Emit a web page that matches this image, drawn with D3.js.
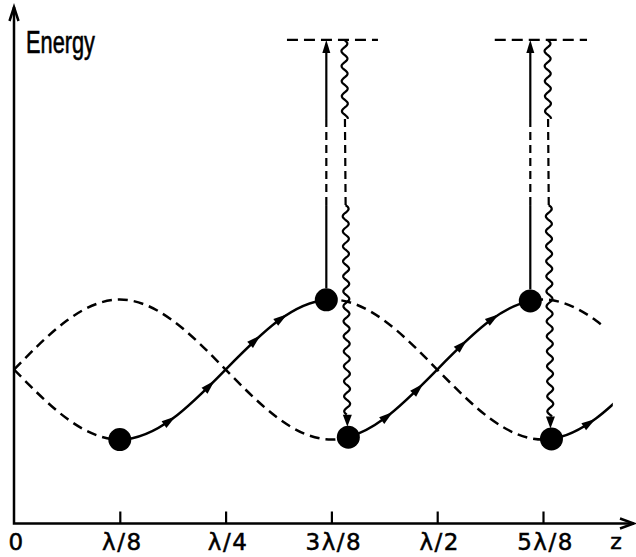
<!DOCTYPE html>
<html>
<head>
<meta charset="utf-8">
<script src="https://cdn.jsdelivr.net/npm/d3@7"></script>
<style>
  body { margin: 0; background: #fff; }
  svg { display: block; }
  .tick text { font-family: "DejaVu Sans", sans-serif; font-size: 23px; letter-spacing: 1.5px; fill: #000; stroke: #000; stroke-width: 0.5px; }
</style>
</head>
<body>
<svg id="chart" width="636" height="557"></svg>
<script>
// positions along z, in units of the wavelength
const zTicks = [0, 1 / 8, 1 / 4, 3 / 8, 1 / 2, 5 / 8];
const zTickLabels = ['0', 'λ/8', 'λ/4', '3λ/8', 'λ/2', '5λ/8'];

// the two light-shift potentials, read every λ/16
const sampleZ = [0, 0.0625, 0.125, 0.1875, 0.25, 0.3125, 0.375, 0.4375, 0.5, 0.5625, 0.625, 0.6875, 0.75];
const potentialA = [0, 0.7, 1, 0.7, 0, -0.7, -1, -0.7, 0, 0.7, 1, 0.7, 0];
const potentialB = [0, -0.7, -1, -0.7, 0, 0.7, 1, 0.7, 0, -0.7, -1, -0.7, 0];

// atom positions
const startDotZ = 0.125;
const upperDotZ = [0.369, 0.610];
const lowerDotZ = [0.395, 0.635];
const dashedEndZ = 0.696;
const solidEndZ = 0.7075;

// little arrowheads along the solid path
const arrowZ = [0.184, 0.231, 0.285, 0.316, 0.441, 0.4775, 0.529, 0.566, 0.68];

// excited level
const excitedEnergy = 4.71;
const levelSpans = [[0.3225, 0.43], [0.568, 0.677]];
const breakEnergy = [2.35, 3.58]; // vertical lines are dashed between these

const svg = d3.select('#chart');
const x = d3.scaleLinear().domain([0, 0.75]).range([14, 648.8]);
const y = d3.scaleLinear().domain([-2.2, 5.18]).range([523.5, 7]);

const line = d3.line()
  .x(d => x(d[0]))
  .y(d => y(d[1]))
  .curve(d3.curveNatural);

const dataA = sampleZ.map((z, i) => [z, potentialA[i]]);
const dataB = sampleZ.map((z, i) => [z, potentialB[i]]);

const defs = svg.append('defs');
let clipId = 0;

// draw part of a potential between z0 and z1
const drawCurve = (data, z0, z1, dashed) => {
  const id = `clip${clipId++}`;
  defs.append('clipPath').attr('id', id)
    .append('rect')
    .attr('x', x(z0)).attr('y', 0)
    .attr('width', x(z1) - x(z0)).attr('height', 557);
  svg.append('path')
    .attr('d', line(data))
    .attr('clip-path', `url(#${id})`)
    .attr('fill', 'none')
    .attr('stroke', '#000')
    .attr('stroke-width', 2.5)
    .attr('stroke-dasharray', dashed ? '10,6' : null);
};

// hidden copies used to find points on the curves
const measureA = svg.append('path').attr('d', line(dataA)).attr('fill', 'none').attr('stroke', 'none').node();
const measureB = svg.append('path').attr('d', line(dataB)).attr('fill', 'none').attr('stroke', 'none').node();

const pointAt = (path, zt) => {
  const xt = x(zt);
  let lo = 0;
  let hi = path.getTotalLength();
  for (let k = 0; k < 40; k++) {
    const mid = (lo + hi) / 2;
    if (path.getPointAtLength(mid).x < xt) lo = mid; else hi = mid;
  }
  const p = path.getPointAtLength(lo);
  const p0 = path.getPointAtLength(Math.max(lo - 2, 0));
  const p1 = path.getPointAtLength(lo + 2);
  return { x: p.x, y: p.y, angle: Math.atan2(p1.y - p0.y, p1.x - p0.x) };
};

// dashed parts
drawCurve(dataA, 0, lowerDotZ[0], true);
drawCurve(dataA, upperDotZ[1], dashedEndZ, true);
drawCurve(dataB, 0, startDotZ, true);
drawCurve(dataB, upperDotZ[0], lowerDotZ[1], true);

// solid path of the atom
drawCurve(dataB, startDotZ, upperDotZ[0], false);
drawCurve(dataA, lowerDotZ[0], upperDotZ[1], false);
drawCurve(dataB, lowerDotZ[1], solidEndZ, false);

// arrowheads along the path
arrowZ.forEach(z => {
  const onA = (z > lowerDotZ[0] && z < upperDotZ[1]);
  const p = pointAt(onA ? measureA : measureB, z);
  svg.append('path')
    .attr('d', 'M7,0 L-7,-4.2 L-7,4.2 Z')
    .attr('transform', `translate(${p.x},${p.y}) rotate(${p.angle * 180 / Math.PI})`)
    .attr('fill', '#000');
});

const R = 11.5;
const yTop = y(excitedEnergy);
const yBreakLow = y(breakEnergy[0]);
const yBreakHigh = y(breakEnergy[1]);

const vline = (x0, y0, x1, y1, dash) => {
  svg.append('line')
    .attr('x1', x0).attr('y1', y0).attr('x2', x1).attr('y2', y1)
    .attr('stroke', '#000')
    .attr('stroke-width', 2.2)
    .attr('stroke-dasharray', dash || null);
};

const wavy = (x0, y0, x1, y1) => {
  const pts = [];
  const n = Math.round(Math.abs(y1 - y0));
  for (let k = 0; k <= n; k++) {
    const t = k / n;
    const yy = y0 + (y1 - y0) * t;
    const xx = x0 + (x1 - x0) * t + 3 * Math.sin((yy - y0) / 15 * 2 * Math.PI);
    pts.push([xx, yy]);
  }
  svg.append('path')
    .attr('d', d3.line()(pts))
    .attr('fill', 'none')
    .attr('stroke', '#000')
    .attr('stroke-width', 2.2);
};

// excitation / spontaneous emission
upperDotZ.forEach((zu, i) => {
  const up = pointAt(i === 0 ? measureB : measureA, zu);
  const low = pointAt(i === 0 ? measureA : measureB, lowerDotZ[i]);

  // excited level
  svg.append('line')
    .attr('x1', x(levelSpans[i][0])).attr('x2', x(levelSpans[i][1]))
    .attr('y1', yTop).attr('y2', yTop)
    .attr('stroke', '#000').attr('stroke-width', 2.2)
    .attr('stroke-dasharray', '11,6');

  // absorption arrow
  vline(up.x, up.y - R, up.x, yBreakLow);
  vline(up.x, yBreakLow, up.x, yBreakHigh, '8,5');
  vline(up.x, yBreakHigh, up.x, yTop + 12);
  svg.append('path')
    .attr('d', `M${up.x},${yTop} L${up.x - 4},${yTop + 13} L${up.x + 4},${yTop + 13} Z`)
    .attr('fill', '#000');

  // emission
  const xw0 = low.x - 4;
  const xw1 = low.x - 1;
  const xAt = yy => xw0 + (xw1 - xw0) * (yy - yTop) / (low.y - R - yTop);
  const yArrowBase = low.y - R - 11;
  wavy(xw0, yTop, xAt(yBreakHigh), yBreakHigh);
  vline(xAt(yBreakHigh), yBreakHigh, xAt(yBreakLow), yBreakLow, '8,5');
  wavy(xAt(yBreakLow), yBreakLow, xAt(yArrowBase), yArrowBase);
  svg.append('path')
    .attr('d', `M${xw1},${low.y - R + 1} L${xw1 - 4.5},${yArrowBase} L${xw1 + 4.5},${yArrowBase} Z`)
    .attr('fill', '#000');
});

// atoms
const dots = [pointAt(measureB, startDotZ)]
  .concat(upperDotZ.map((z, i) => pointAt(i === 0 ? measureB : measureA, z)))
  .concat(lowerDotZ.map((z, i) => pointAt(i === 0 ? measureA : measureB, z)));
svg.selectAll('.atom')
  .data(dots)
  .enter()
  .append('circle')
  .attr('class', 'atom')
  .attr('cx', d => d.x)
  .attr('cy', d => d.y)
  .attr('r', R)
  .attr('fill', '#000');

// axes
const xAxis = d3.axisBottom(x)
  .tickValues(zTicks)
  .tickFormat((d, i) => zTickLabels[i])
  .tickSizeInner(-12)
  .tickSizeOuter(0)
  .tickPadding(10);

const gx = svg.append('g')
  .attr('transform', `translate(0,${y(-2.2)})`)
  .call(xAxis);
gx.select('.domain').remove();
gx.selectAll('.tick line').attr('stroke', '#000').attr('stroke-width', 2.2)
  .filter(d => d === 0).remove();
gx.selectAll('.tick text').attr('dx', 2);

const x0 = x(0);
const yAxisY = y(-2.2);
svg.append('path')
  .attr('d', `M${x0},${y(5.18)} L${x0},${yAxisY} L634,${yAxisY}`)
  .attr('fill', 'none').attr('stroke', '#000').attr('stroke-width', 2.5);
svg.append('path')
  .attr('d', `M${x0 - 4.5},${y(5.18) + 14} L${x0},${y(5.18)} L${x0 + 4.5},${y(5.18) + 14}`)
  .attr('fill', 'none').attr('stroke', '#000').attr('stroke-width', 2.5);
svg.append('path')
  .attr('d', `M620,${yAxisY - 5} L634,${yAxisY} L620,${yAxisY + 5}`)
  .attr('fill', 'none').attr('stroke', '#000').attr('stroke-width', 2.5);

svg.append('text')
  .attr('x', 616).attr('y', yAxisY + 10).attr('dy', '0.71em')
  .attr('text-anchor', 'middle')
  .style('font-family', '"DejaVu Sans", sans-serif')
  .style('font-size', '22px')
  .style('stroke', '#000').style('stroke-width', '0.5px')
  .text('z');

svg.append('text')
  .attr('x', 26).attr('y', 53)
  .attr('textLength', 69)
  .attr('lengthAdjust', 'spacingAndGlyphs')
  .style('font-family', '"Liberation Sans Narrow", sans-serif')
  .style('font-size', '31px')
  .style('stroke', '#000').style('stroke-width', '0.6px')
  .text('Energy');
</script>
</body>
</html>
